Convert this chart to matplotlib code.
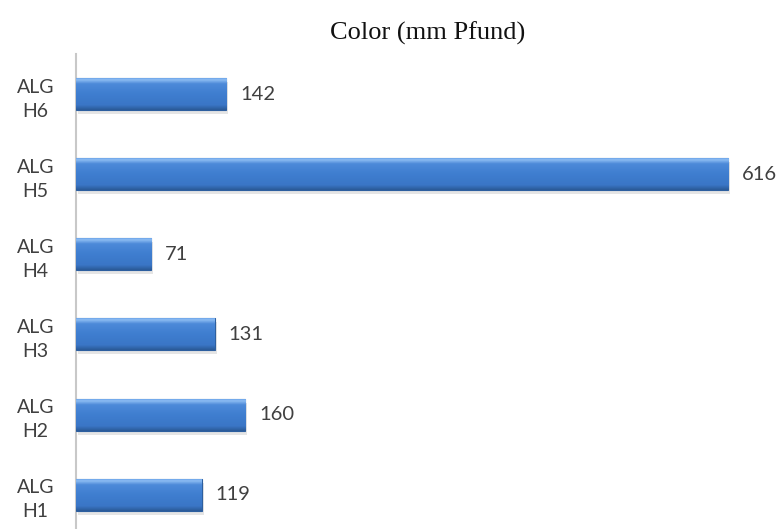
import numpy as np
import matplotlib
matplotlib.use("Agg")
import matplotlib.pyplot as plt

# Color values for each hive sample
muestras = ["ALG\nH1", "ALG\nH2", "ALG\nH3", "ALG\nH4", "ALG\nH5", "ALG\nH6"]
color_pfund = [119, 160, 131, 71, 616, 142]

fig = plt.figure(figsize=(7.8, 5.29), dpi=100)
ax = fig.add_axes([0.0974, -0.011, 0.9026, 0.909])

y = np.arange(len(muestras))
barras = ax.barh(y, color_pfund, height=0.4, color="#3d7bcc",
                 edgecolor="#2d5f9f", linewidth=0.8, zorder=3)

# vertical gradient inside each bar: thin light top, flat body, dark bottom edge
grad = np.linspace(0, 1, 100).reshape(-1, 1)
cmap = matplotlib.colors.LinearSegmentedColormap.from_list(
    "barra", [(0.0, "#5f9ae6"), (0.08, "#8cbcf2"), (0.2, "#4d8ad9"),
              (0.5, "#3f7ed0"), (0.85, "#3a76c6"), (1.0, "#2b5a98")])
for b in barras:
    x0, y0 = b.get_x(), b.get_y()
    w, h = b.get_width(), b.get_height()
    im = ax.imshow(grad, extent=(x0, x0 + w, y0, y0 + h), origin="upper",
                   cmap=cmap, aspect="auto", zorder=4)
    im.set_clip_path(b)
    # soft shadow under the bar
    ax.add_patch(plt.Rectangle((x0 + 2, y0 - 0.05), w, h, color="#b5b5b5",
                               alpha=0.35, lw=0, zorder=2))

for yi, v in zip(y, color_pfund):
    ax.text(v + 13, yi, str(v), va="center", ha="left", fontsize=14.5,
            color="#404040", family="Lato")

ax.set_xlim(0, 665)
ax.set_ylim(-0.5, len(muestras) - 0.5)
ax.set_yticks(y)
ax.set_yticklabels(muestras, fontsize=14, color="#404040", family="Lato",
                   ha="center", linespacing=1.5)
ax.tick_params(axis="y", length=0, pad=29)
ax.set_xticks([])
for s in ["top", "right", "bottom"]:
    ax.spines[s].set_visible(False)
ax.spines["left"].set_color("#c8c8c8")
ax.spines["left"].set_linewidth(1.5)

fig.text(0.548, 0.938, "Color (mm Pfund)", ha="center", va="center",
         fontsize=19, family="Liberation Serif", color="#111111")

fig.savefig("out.png", dpi=100)
